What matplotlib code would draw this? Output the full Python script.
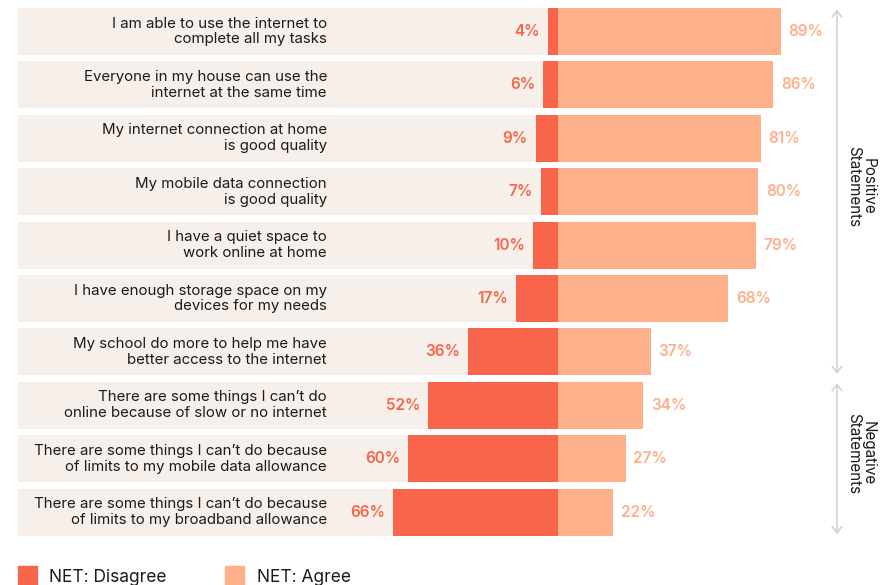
import numpy as np
import matplotlib
matplotlib.use("Agg")
from matplotlib import pyplot as plt
from matplotlib.patches import Rectangle

plt.rcParams['font.family'] = ['Inter', 'DejaVu Sans']

statements = [
    "I am able to use the internet to\ncomplete all my tasks",
    "Everyone in my house can use the\ninternet at the same time",
    "My internet connection at home\nis good quality",
    "My mobile data connection\nis good quality",
    "I have a quiet space to\nwork online at home",
    "I have enough storage space on my\ndevices for my needs",
    "My school do more to help me have\nbetter access to the internet",
    "There are some things I can\u2019t do\nonline because of slow or no internet",
    "There are some things I can\u2019t do because\nof limits to my mobile data allowance",
    "There are some things I can\u2019t do because\nof limits to my broadband allowance",
]
disagree = [4, 6, 9, 7, 10, 17, 36, 52, 60, 66]
agree = [89, 86, 81, 80, 79, 68, 37, 34, 27, 22]
groups = ["Positive\nStatements", "Negative\nStatements"]
group_rows = [(0, 6), (7, 9)]
legend_names = ["NET: Disagree", "NET: Agree"]

DISAGREE = "#f9654a"
AGREE = "#fdb089"
BAND = "#f6efea"
GREY = "#cfcfcf"
TEXT = "#1b1b1b"

W, H = 892, 585
CX = 558      # pixel where the two sides meet
PX_PER = 2.5  # pixels per percentage point
ROW0 = 31.5   # pixel centre of first row
PITCH = 53.4  # row spacing in pixels
BAR_H = 47 / PITCH


def px(x):
    return (x - CX) / PX_PER


def py(y):
    return (y - ROW0) / PITCH


fig = plt.figure(figsize=(W / 100, H / 100), dpi=100)
ax = fig.add_axes([0, 0, 1, 1])
ax.set_xlim(px(0), px(W))
ax.set_ylim(py(H), py(0))
ax.axis("off")

rows = np.arange(len(statements))
d = np.array(disagree)
a = np.array(agree)

# label bands behind the left half
ax.barh(rows, -px(18), left=px(18), height=BAR_H, color=BAND, zorder=0)
ax.barh(rows, -d, height=BAR_H, color=DISAGREE, zorder=2)
ax.barh(rows, a, height=BAR_H, color=AGREE, zorder=2)

for i, s in enumerate(statements):
    ax.text(px(327), i, s, ha="right", va="center", fontsize=10.8,
            color=TEXT, linespacing=1.15)
    ax.text(-d[i] - 3.2, i, f"{d[i]}%", ha="right", va="center",
            fontsize=11, fontweight="semibold", color=DISAGREE)
    ax.text(a[i] + 3.2, i, f"{a[i]}%", ha="left", va="center",
            fontsize=11, fontweight="semibold", color=AGREE)

# brackets for the statement groups
for name, (r0, r1) in zip(groups, group_rows):
    top = r0 - BAR_H / 2 + 0.03
    bot = r1 + BAR_H / 2 - 0.03
    ax.annotate("", xy=(px(837), top), xytext=(px(837), bot),
                arrowprops=dict(arrowstyle="<->,head_length=0.45,head_width=0.35",
                                color=GREY, lw=1.1, mutation_scale=10,
                                shrinkA=0, shrinkB=0))
    ax.text(px(861), (top + bot) / 2 - 0.1, name, rotation=-90, ha="center",
            va="center", fontsize=11, color=TEXT, linespacing=1.0)

# legend along the bottom edge
for name, col, sx, tx in zip(legend_names, [DISAGREE, AGREE], [18, 225], [49, 257]):
    ax.add_patch(Rectangle((px(sx), py(566)), 19 / PX_PER, 20 / PITCH,
                           color=col, clip_on=False))
    ax.text(px(tx), py(577), name, ha="left", va="center", fontsize=12.5,
            color=TEXT)

fig.savefig("out.png", dpi=100)
